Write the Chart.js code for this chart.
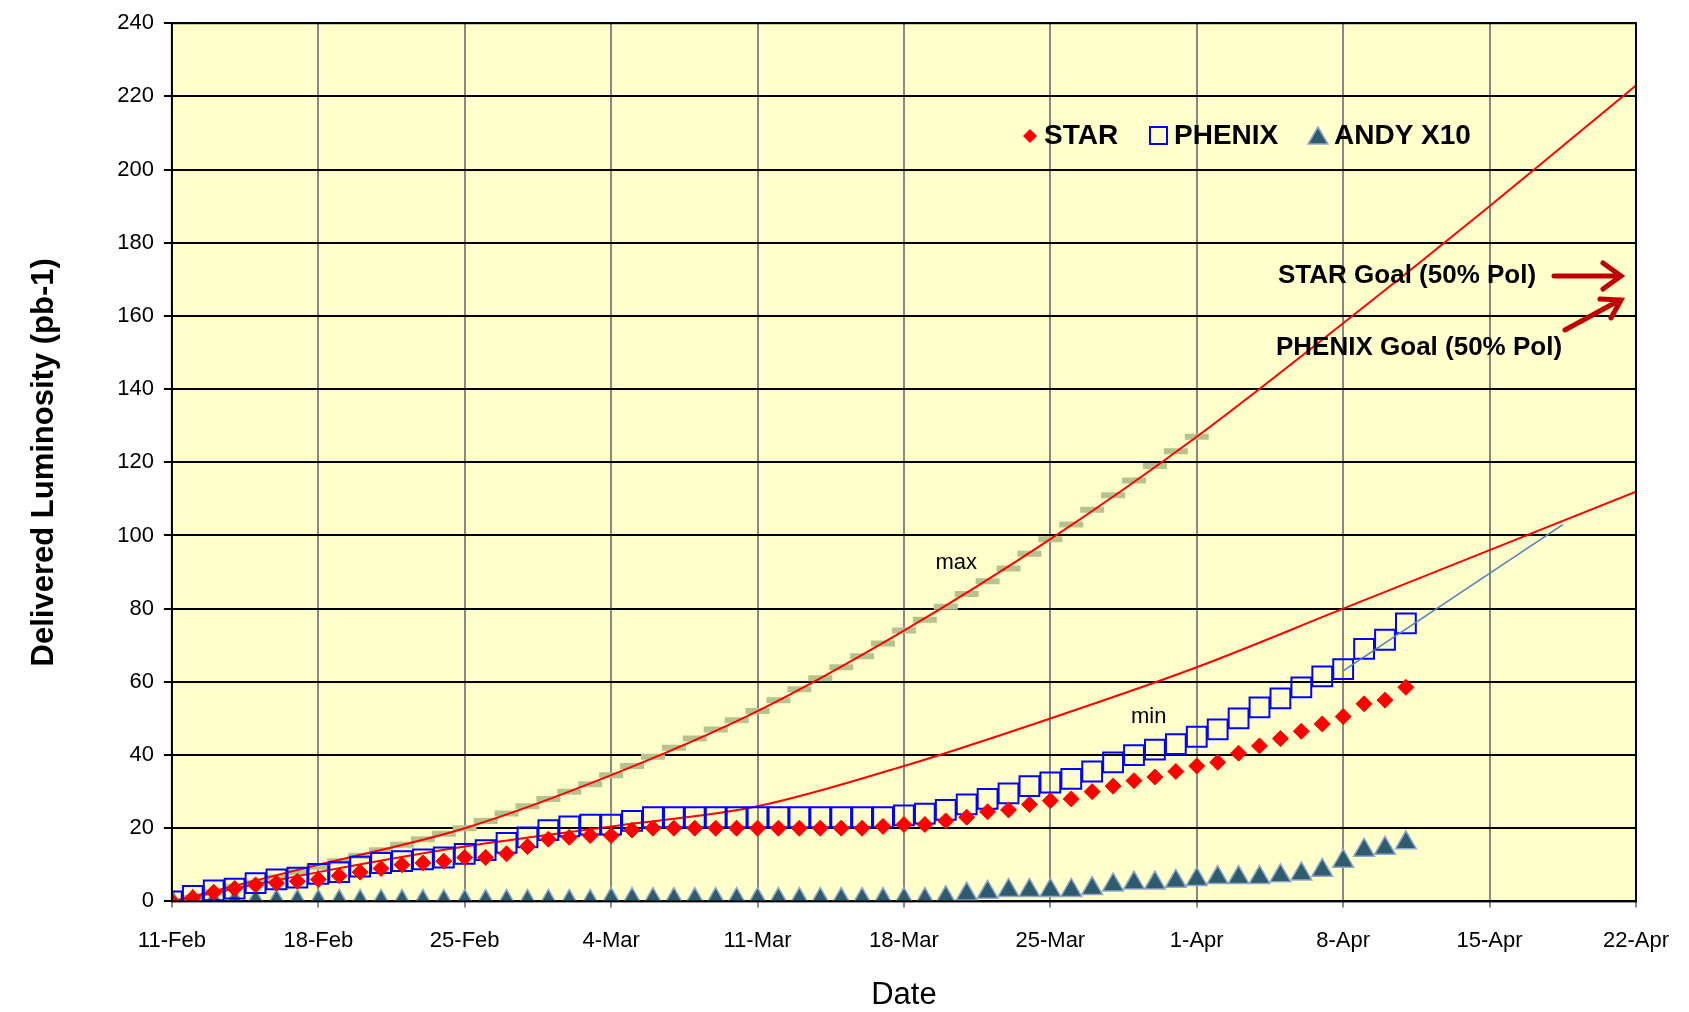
<!DOCTYPE html>
<html><head><meta charset="utf-8">
<script src="https://cdn.jsdelivr.net/npm/chart.js@4"></script>
<style>html,body{margin:0;padding:0;background:#fff}#wrap{width:1689px;height:1012px}</style>
</head><body><div id="wrap"><canvas id="c"></canvas></div>
<script>
// x = days since 11-Feb
var xTicks = ["11-Feb","18-Feb","25-Feb","4-Mar","11-Mar","18-Mar","25-Mar","1-Apr","8-Apr","15-Apr","22-Apr"];
var star = [0,1,2.5,3.5,4.5,5,5.5,6,7,8,9,10,10.5,11,12,12,13,15,17,17.5,18,18,19.5,20,20,20,20,20,20,20,20,20,20,20,20.5,21,21,22,23,24.5,25,26.5,27.5,28,30,31.5,33,34,35.5,37,38,40.5,42.5,44.5,46.5,48.5,50.5,54,55,58.5];
var phenix = [0,1.5,3,3.5,5,6,6.5,7.5,8,9.5,10.5,11,11.5,12,13,14,16,17.5,19.5,20.5,21,21,22,23,23,23,23,23,23,23,23,23,23,23,23,23.5,24,25,26.5,28,29.5,31.5,32.5,33.5,35.5,38,40,41.5,43,45,47,50,53,55.5,58.5,61.5,63.5,69,71.5,76];
var andy = [0,0,0,0,0,0,0,0,0,0,0,0,0,0,0,0,0,0,0,0,0,0.5,0.5,0.5,0.5,0.5,0.5,0.5,0.5,0.5,0.5,0.5,0.5,0.5,0.5,0.5,0.5,1,2,2.5,3,3,3,3,3.5,4.5,5,5,5.5,6,6.5,6.5,6.5,7,7.5,8.5,11,14,14.5,16];
var maxDash = [0,1,2.5,4,5,6.5,8,9.5,11,12.5,14,15.5,17,18.5,20,22,24,26,28,30,32,34.5,37,39.5,42,44.5,47,49.5,52,55,58,61,64,67,70.5,74,77,80.5,84,87.5,91,95,99,103,107,111,115,119,123,127];
var curveDays = [0,7,14,21,28,35,42,49,56,63,70];
var maxCurve = [0,10,20,34.5,52,74,99,127,158,190,223];
var minCurve = [0,8,15,20.5,26,37,50,64,80,96,112];
var trendDays = [56,66.5];
var trendVals = [63,103];

function pts(xs, ys){ return ys.map(function(v,i){ return {x: xs ? xs[i] : i, y: v}; }); }

var F = "'Liberation Sans', Arial, sans-serif";

var deco = {
  id: "deco",
  beforeDraw: function(ch){
    var a = ch.chartArea, c = ch.ctx;
    c.save(); c.fillStyle = "#FFFFCC"; c.fillRect(a.left, a.top, a.right-a.left, a.bottom-a.top); c.restore();
  },
  afterDraw: function(ch){
    var c = ch.ctx, xs = ch.scales.x, ys = ch.scales.y, a = ch.chartArea;
    c.save();
    c.strokeStyle = "#000"; c.lineWidth = 2;
    c.strokeRect(a.left, a.top, a.right-a.left, a.bottom-a.top);
    // legend
    c.font = "bold 28px " + F; c.textBaseline = "middle"; c.fillStyle = "#000";
    var ly = 136;
    c.fillStyle = "#FF0000"; c.beginPath(); c.moveTo(1030,ly-7); c.lineTo(1037,ly); c.lineTo(1030,ly+7); c.lineTo(1023,ly); c.fill();
    c.fillStyle = "#000"; c.fillText("STAR", 1044, ly);
    c.strokeStyle = "#0000FF"; c.lineWidth = 2; c.strokeRect(1150, ly-9, 17, 17);
    c.fillText("PHENIX", 1174, ly);
    c.fillStyle = "#2E5C6E"; c.strokeStyle = "#8FA8C8"; c.lineWidth = 1.5;
    c.beginPath(); c.moveTo(1318,ly-9); c.lineTo(1328,ly+8); c.lineTo(1308,ly+8); c.closePath(); c.fill(); c.stroke();
    c.fillStyle = "#000"; c.fillText("ANDY X10", 1334, ly);
    // curve labels
    c.font = "22px " + F; c.textAlign = "center";
    c.fillText("max", xs.getPixelForValue(37.5), ys.getPixelForValue(92.5));
    c.fillText("min", xs.getPixelForValue(46.7), ys.getPixelForValue(50.5));
    // goals
    c.font = "bold 26px " + F; c.textAlign = "left";
    c.fillText("STAR Goal (50% Pol)", 1278, 276);
    c.fillText("PHENIX Goal (50% Pol)", 1276, 348);
    c.strokeStyle = "#C00000"; c.lineWidth = 5; c.lineCap = "round";
    c.beginPath(); c.moveTo(1554,276); c.lineTo(1620,276); c.moveTo(1603,263); c.lineTo(1621,276); c.lineTo(1603,289); c.stroke();
    c.beginPath(); c.moveTo(1565,330); c.lineTo(1620,300); c.moveTo(1600,299); c.lineTo(1621,300); c.lineTo(1611,318); c.stroke();
    c.restore();
  }
};

new Chart(document.getElementById("c"), {
  type: "scatter",
  data: { datasets: [
    { data: pts(curveDays, maxCurve), showLine: true, borderColor: "#FF0000", borderWidth: 2, pointRadius: 0, cubicInterpolationMode: "monotone", order: 5 },
    { data: pts(curveDays, minCurve), showLine: true, borderColor: "#FF0000", borderWidth: 2, pointRadius: 0, cubicInterpolationMode: "monotone", order: 5 },
    { data: pts(null, maxDash), pointStyle: "line", pointRadius: 12, borderColor: "#B5C48E", borderWidth: 6, backgroundColor: "#B5C48E", order: 6 },
    { data: pts(null, andy), pointStyle: "triangle", pointRadius: 12, backgroundColor: "#2E5C6E", borderColor: "#8FA8C8", borderWidth: 1.5, order: 4 },
    { data: pts(null, phenix), pointStyle: "rect", pointRadius: 14, backgroundColor: "rgba(0,0,0,0)", borderColor: "#0000FF", borderWidth: 2, order: 3 },
    { data: pts(null, star), pointStyle: "rectRot", pointRadius: 8, backgroundColor: "#FF0000", borderColor: "#FF0000", borderWidth: 1, order: 2 },
    { data: pts(trendDays, trendVals), showLine: true, borderColor: "#4F81BD", borderWidth: 1.5, pointRadius: 0, order: 1 }
  ]},
  options: {
    responsive: true, maintainAspectRatio: false, animation: false,
    layout: { padding: { top: 6, right: 45, left: 22, bottom: -6 } },
    plugins: { legend: { display: false }, tooltip: { enabled: false } },
    scales: {
      x: { type: "linear", min: 0, max: 70,
        ticks: { stepSize: 7, color: "#000", font: { family: F, size: 22 }, padding: 20,
          callback: function(v){ return xTicks[v/7]; } },
        grid: { color: "#888", lineWidth: 2, drawTicks: true, tickLength: 6 },
        border: { display: false },
        title: { display: true, text: "Date", color: "#000", font: { family: F, size: 31 }, padding: { top: 3 } } },
      y: { min: 0, max: 240,
        ticks: { stepSize: 20, color: "#000", font: { family: F, size: 22 }, padding: 10 },
        grid: { color: "#000", lineWidth: 2, tickLength: 8 },
        border: { display: false },
        title: { display: true, text: "Delivered Luminosity (pb-1)", color: "#000", font: { family: F, size: 31, weight: "bold" }, padding: { bottom: 44 } } }
    }
  },
  plugins: [deco]
});
</script></body></html>
